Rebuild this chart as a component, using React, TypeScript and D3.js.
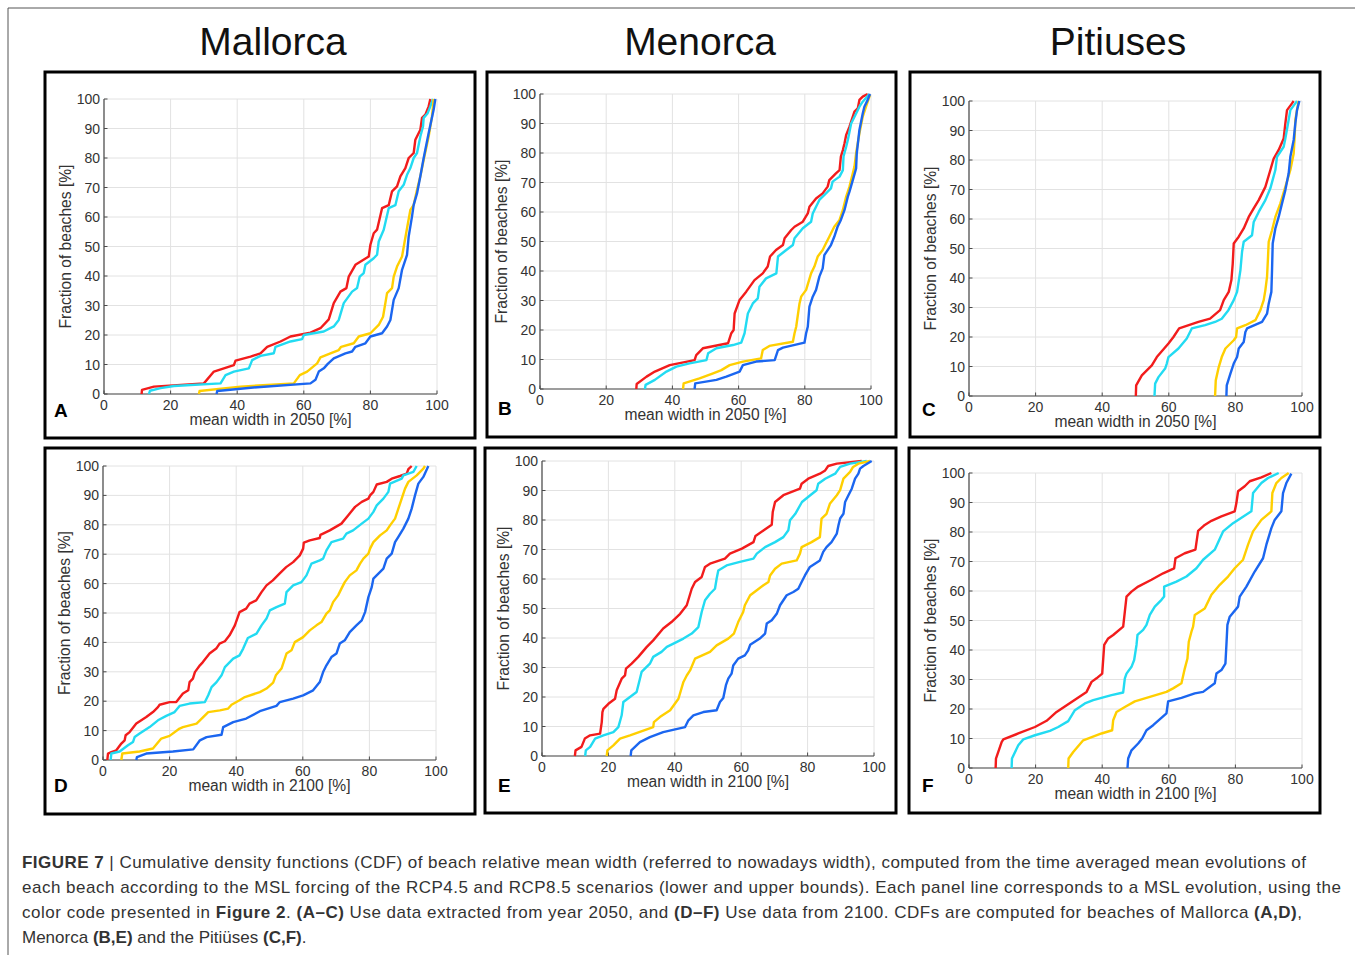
import React from "react";
import * as d3 from "d3";

type Pt = [number, number];

// column titles, scenario colours, ticks
const islands = ["Mallorca", "Menorca", "Pitiuses"];
const years = ["2050", "2100"];
const letters = ["A", "B", "C", "D", "E", "F"];
const scenarioColors = ["#f21c1c", "#22dbf2", "#ffcf00", "#1b66f0"];
const xTicks = [0, 20, 40, 60, 80, 100];
const yTicks = [0, 10, 20, 30, 40, 50, 60, 70, 80, 90, 100];

// ---- Mallorca 2050 (A)
const aRed: Pt[] = [[11.3,0],[11.4,1.4],[15,2.5],[30,3.6],[33,7.6],[39,9.8],[39.5,11.3],[44,12.7],[47,13.8],[49,16],[53,17.8],[56,19.5],[62,20.8],[65,22.3],[67.5,25.3],[69,30.8],[71,34.7],[72.8,35.9],[73.5,39.8],[75.5,43.8],[79.5,46.6],[80,50.6],[81,54.5],[82,55.7],[83.5,63],[85.5,64],[86.5,68.7],[88,70.4],[89,73.8],[90.5,76.6],[91.5,80],[93,81.7],[93.5,86.2],[95,89.6],[95.5,93.6],[96.5,94.7],[97.5,97.5],[98,100]];
const aCyan: Pt[] = [[13.5,0],[13.8,1.1],[17,2],[21,2.7],[35,3.6],[36.5,6.4],[39,7.6],[43.5,8.7],[44.5,11.5],[47,12.9],[51,13.8],[51.5,16],[56,17.8],[59.5,18.6],[60,20],[66,21.2],[69,22.9],[70.5,25.1],[72,30.8],[74.5,34.7],[76,35.9],[76.8,39.8],[78,41],[78.5,43.8],[81,46],[82,47.2],[82.5,51.7],[84,55.7],[85.5,63],[87.5,64],[88.5,68.7],[90,70.9],[91,74.3],[92,76.6],[93,80],[94,81.7],[95,87.3],[95.8,90.7],[96,93.6],[97.2,95.2],[98,97.5],[98.8,100]];
const aYellow: Pt[] = [[28.5,0],[28.7,1],[41,2.5],[57,3.6],[58.8,6.4],[61,7.6],[64,10.4],[65,12.4],[68,13.8],[70.5,14.9],[71.2,16],[75,17.2],[76.5,19.5],[80,20.6],[82.5,23.4],[83.8,26.2],[85,34.2],[86.5,35.9],[87,39.8],[88,43.2],[89.5,46.6],[90.2,51.1],[91,56.2],[92,62.4],[93,64.1],[94,69.2],[95,73.8],[96,79.4],[97.5,87.3],[98.5,94.1],[99,100]];
const aBlue: Pt[] = [[33.8,0],[34,1],[46,2.3],[62,3.6],[63.5,4.8],[64.5,7.6],[66,8.7],[67.2,10.2],[69,12.1],[72.5,13.8],[74.5,14.4],[75.5,16],[78.5,17.2],[80,19.5],[83.5,20.6],[85,22.9],[86,25.1],[87,31.9],[88.5,35.9],[89.5,42.1],[91,47.2],[91.5,53.4],[92.5,60.2],[93,64.1],[94,68],[95,73.8],[96,80],[97.5,88.5],[99,96.4],[99.5,100]];

// ---- Menorca 2050 (B)
const bRed: Pt[] = [[29.1,0],[29.2,1.7],[32.2,4.2],[34.7,5.9],[39.2,8.1],[46.7,9.8],[47.2,11.5],[49.2,13.8],[56.8,15.5],[57.8,18.9],[58.5,20],[58.8,25.6],[60.3,30.2],[62.3,33],[64.8,36.9],[67.3,39.2],[68.8,41.5],[69.5,44.9],[71.3,47.1],[73.4,48.8],[73.9,51.1],[75.9,53.9],[76.9,55],[79.4,56.7],[80.9,59.5],[81.4,61.8],[83.4,64.6],[85.4,66.3],[86.9,68.6],[87.4,70.8],[89.4,73.1],[90.5,74.2],[90.9,78.8],[91.5,81],[92,83.3],[92.5,86.1],[93.5,88.9],[94.5,92.3],[95,94],[96,95.1],[96.5,98],[97.5,99.1],[99,100]];
const bCyan: Pt[] = [[31.7,0],[31.9,1.4],[34.7,3.1],[38.2,5.9],[41.2,7.6],[45.2,8.7],[50.3,9.8],[50.8,12.1],[53.3,13.8],[58.3,14.9],[60.8,15.7],[61.8,18.9],[62.3,22.3],[62.8,25.6],[64.3,29],[65.8,30.7],[66.3,34.7],[68.3,37.5],[71.4,39.2],[71.9,44.9],[74.4,47.1],[76.4,48.8],[76.9,51.1],[79.4,54.5],[81.9,56.7],[82.4,59.5],[83.4,61.8],[84.4,64.1],[86.4,66.3],[87.9,68],[88.4,70.3],[90.5,72],[91.5,74.2],[91.7,78.8],[92.5,82.1],[93,84.4],[94,90],[95.5,93.4],[96.5,95.7],[97.5,97.4],[99.5,100]];
const bYellow: Pt[] = [[43.2,0],[43.4,1.9],[48.2,3.6],[52.3,5.3],[54.8,6.4],[57.3,8.1],[61.3,9.3],[66.8,10.4],[67.3,13.2],[69.3,14.6],[76.4,16],[76.9,18.9],[77.4,21.1],[78.4,29],[78.9,31.3],[80.4,33.6],[81.9,39.2],[82.9,41.5],[83.9,44.9],[85.4,47.1],[86.4,49.4],[87.4,51.6],[88.9,55],[90.5,57.3],[91.5,60.7],[92.5,65.2],[93.5,68.6],[94.5,73.1],[95,75.4],[95.5,79.9],[96.5,86.7],[97.5,92.3],[98.5,95.7],[99.7,99.7]];
const bBlue: Pt[] = [[46.7,0],[46.9,1.9],[53.3,3.1],[56.3,4.2],[60.3,5.9],[61.3,8.1],[65.3,9.3],[70.9,9.8],[71.9,13.2],[73.4,14],[79.9,15.7],[80.4,18.9],[80.9,21.1],[81.4,27.9],[82.4,31.3],[83.4,33.6],[84.4,38.1],[85.4,40.9],[85.9,45.4],[87.9,48.8],[88.9,51.6],[89.9,55],[90.9,57.3],[92,60.7],[93,65.2],[93.5,66.9],[94.5,70.8],[95.5,74.8],[95.7,79.9],[96.5,87.8],[97.5,93.4],[98,95.7],[99,98],[99.7,100]];

// ---- Pitiuses 2050 (C)
const cRed: Pt[] = [[50.1,0],[50.2,3.6],[51.9,7],[54.9,10.4],[56.4,13.2],[59.9,17.8],[61.4,20],[63.1,22.9],[68.9,25.1],[72.4,26.2],[75.4,29.1],[76.5,32.5],[78,35.3],[78.8,39.3],[79.2,44.9],[79.5,51.7],[81,54],[82.5,56.8],[84,60.7],[85.5,63.6],[87,66.4],[89,70.9],[90.5,76.6],[91.5,80.5],[93,83.4],[94.5,87.3],[95,92.4],[95.5,96.9],[97,99.2],[97.5,100]];
const cCyan: Pt[] = [[55.7,0],[55.9,4.2],[56.9,6.4],[58.9,9.3],[59.4,11],[59.9,13.2],[62.9,16.1],[65.4,19.5],[66.9,22.9],[70.9,24],[73.9,25.1],[75.9,26.2],[77.9,29.1],[79.5,32.5],[80.5,35.3],[81.5,42.6],[82,48.9],[82.5,52.3],[85,54.5],[85.5,59],[87,62.4],[89,66.4],[90.5,70.4],[92,76.6],[92.5,81.1],[94.5,84.5],[95,87.3],[95.8,92.4],[96.5,96.9],[98,99.2],[98.5,100]];
const cYellow: Pt[] = [[73.9,0],[74.1,5.3],[75,9.8],[75.9,13.2],[77,16.1],[79.5,18.9],[80.2,20],[80.5,22.9],[83,24],[86,25.7],[87.5,29.1],[88.5,32.5],[89,35.9],[89.5,40.4],[89.8,47.2],[90,52.3],[91,56.2],[92,60.7],[93.5,65.3],[95,70.9],[96.5,76.6],[97.5,82.2],[97.8,87.9],[98,93.6],[98.5,96.9],[99,100]];
const cBlue: Pt[] = [[77.3,0],[77.4,3.6],[78.5,7.6],[79.5,11],[80.5,13.2],[81,16.1],[82.5,18.3],[83,21.7],[83.5,22.9],[88,25.1],[89.5,27.9],[90,31.3],[90.8,35.3],[91,42.6],[91.2,51.7],[92,56.8],[93,60.7],[94,65.3],[95,69.8],[96,75.5],[96.5,81.1],[97.5,86.8],[98,92.4],[98.5,96.9],[99.2,100]];

// ---- Mallorca 2100 (D)
const dRed: Pt[] = [[1.3,0],[1.5,2.2],[2.5,2.7],[4,3.3],[5.5,5.6],[6.5,6.7],[6.8,8.4],[8,9.5],[10,12.4],[13,14.6],[15,16.3],[16.5,18],[17,18.8],[20,19.7],[22,19.7],[24,22.6],[25.6,23.7],[26,26.5],[27,27.7],[27.6,29.9],[29.1,32.2],[30,33.3],[32,36.2],[34,37.9],[35,39.6],[36.6,40.4],[38,42.4],[39.6,45.8],[41,50.3],[43,51.5],[44,53.2],[46,54.3],[47.6,57.1],[49.1,59.4],[51,61.1],[53,63.4],[55,65.6],[57.1,67.3],[59.1,69.6],[60.1,71.9],[60.3,73.9],[62.1,74.7],[65.1,75.5],[65.3,76.6],[68.1,78.1],[71.6,80.4],[73.6,83.2],[75.7,86.1],[77.7,87.8],[79.7,88.9],[80.2,90],[81.2,91.2],[82.2,93.7],[85.2,94.6],[86.7,95.7],[89.2,96.6],[91.2,97.4],[91.7,98.9],[92.7,100]];
const dCyan: Pt[] = [[2.3,0],[2.5,2.2],[5,2.9],[7.5,5],[9,6.1],[9.5,7.8],[11,9],[14,11.2],[16.5,13.5],[19,15],[21.5,16.3],[23,18.4],[26,19.2],[30.6,19.7],[31.6,22],[32.6,24.8],[34.1,26.5],[35.6,28.8],[36.6,31.6],[39.1,34.5],[41,35.6],[42.1,37.9],[43.5,41.5],[46.1,43],[47.6,45.8],[49.1,48.1],[50.1,50.9],[52.1,52],[54.6,53.2],[55.1,57.1],[57.1,59.4],[59.6,60.5],[61.1,62.8],[62.6,66.8],[65.1,67.9],[66.1,68.5],[67.1,71.3],[68.6,74.1],[72.1,75.3],[73.1,77],[75.1,78.1],[77.7,80.4],[79.7,82.1],[81.2,84.4],[82.2,86.6],[84.2,88.9],[85.7,91.2],[86.2,94],[89.7,95.7],[90.2,96.8],[93.2,98],[94.2,100]];
const dYellow: Pt[] = [[5.5,0],[5.8,2.2],[11,2.9],[15,3.9],[17.5,7.3],[20,8.2],[23,10.7],[24,11.2],[28.1,12.4],[29.1,13.5],[31.6,16.3],[35.1,16.9],[37.6,17.5],[38.6,18.8],[41,20.3],[42.6,21.4],[47.1,23.1],[49.1,24.3],[51.1,26.3],[51.9,28.8],[53.6,31.1],[55.1,36.2],[56.6,37.3],[57.6,40.1],[60.1,41.8],[62.1,44.1],[64.1,45.8],[65.6,46.9],[67.1,49.8],[68.1,50.9],[69.1,53.7],[70.6,56],[71.6,58.3],[72.6,60.5],[74.1,62.8],[76.1,64.5],[77.2,66.8],[78.2,68.5],[79.7,70.2],[80.2,71.9],[81.2,74.1],[83.2,76.4],[85.2,78.1],[86.2,79.8],[87.7,82.1],[88.7,85.5],[89.7,88.9],[90.7,92.3],[91.7,94.6],[94.2,96.8],[96.2,99.1],[96.7,100]];
const dBlue: Pt[] = [[10,0],[10.2,1],[13,2.2],[21,2.9],[27.1,3.6],[29.1,6.7],[31.1,7.8],[35.6,8.6],[36.1,11.2],[39.1,12.9],[43,14.1],[47.1,16.6],[52.1,18.4],[53.1,19.7],[57.1,20.9],[60.1,22],[63.1,23.7],[65.1,26.5],[66.1,29.9],[67.1,32.2],[68.6,35],[70.1,36.2],[71.1,39.6],[72.6,40.7],[74.1,43.5],[76.1,45.8],[77.7,47.5],[78.7,50.3],[79.7,55.4],[80.7,58.8],[81.2,61.7],[82.7,63.4],[84.2,65.1],[85.2,68.5],[86.7,70.2],[87.7,74.1],[88.7,75.9],[90.2,78.7],[91.7,82.1],[92.7,85.5],[93.7,90],[94.7,94],[96.2,96.3],[97.7,100]];

// ---- Menorca 2100 (E)
const eRed: Pt[] = [[9.9,0],[10.1,1.9],[11.9,3.1],[12.9,5.9],[14.5,7],[17.5,7.6],[18,11.5],[18.2,14.9],[18.5,16],[20,17.7],[22,19.4],[22.5,22.3],[24,26.2],[25,27.3],[25.3,29.6],[27,31.3],[29,33.6],[31.5,36.9],[33.5,39.2],[36.5,43.2],[39,45.4],[41.6,48.2],[43.6,51.1],[45.1,56.7],[46.1,59],[48.1,60.7],[49.1,64.1],[50.6,65.2],[55.1,66.9],[56.6,68.6],[60.2,70.3],[63.7,72.5],[64.3,74.6],[66.8,76.5],[69.2,78.4],[69.5,82.7],[70.2,86.1],[72.7,88.4],[77.7,90.6],[78.2,92.3],[80.2,94],[83.7,95.7],[85.3,96.8],[86.2,98.3],[88.8,99.1],[96.3,100]];
const eCyan: Pt[] = [[13,0],[13.2,1.9],[14.5,3.1],[16,5.9],[18.5,7],[21.5,8.1],[23,9.8],[24,13.8],[24.5,18.3],[26.5,20],[28.5,21.7],[29.5,26.2],[30,28.5],[32.5,31.3],[33.5,33.6],[36,35.3],[37.6,37],[39.6,38.1],[42.6,39.8],[45.1,41.5],[47.1,43.7],[48.1,48.8],[49.1,52.8],[50.6,55],[52.1,56.7],[52.6,60.1],[53.1,62.9],[55.6,64.6],[59.6,65.8],[63.7,66.9],[64.7,68.6],[67.2,70.8],[70.2,72.5],[72.7,74.2],[74.2,76.5],[74.7,79.9],[76.3,82.1],[78.3,86.1],[80.8,88.4],[82.7,90.1],[83.2,92.3],[85.3,94],[88.3,95.7],[89.8,98],[92.8,99.1],[97.8,100]];
const eYellow: Pt[] = [[19.5,0],[19.7,1.9],[21.5,3.6],[23.5,5.9],[26.5,7],[33.5,9.8],[33.7,11.5],[35.5,13.2],[38.6,15.5],[41.1,19.4],[42.6,25.1],[43.6,27.3],[44.6,29],[46.1,33],[50.6,35.3],[52.6,37.5],[56.1,39.8],[57.8,41.5],[59.1,45.4],[60.6,48.8],[61.1,51.1],[62.7,54.5],[64.7,56.2],[66.7,57.9],[68.2,59],[68.7,61.2],[70.2,63.5],[72.2,65.2],[76.7,66.3],[77.7,68.6],[78.2,70.8],[81.2,72.5],[83.7,74.2],[84.2,80.5],[85.7,82.1],[86.7,85.5],[88.8,88.4],[89.8,90.1],[90.8,94],[92.8,96.3],[93.7,98],[95.3,99.1],[98.8,100]];
const eBlue: Pt[] = [[26.7,0],[26.9,1.9],[29.5,4.7],[32.5,6.4],[36.5,8.1],[40.1,9],[43.1,9.8],[44.1,12.1],[45.6,13.8],[48.6,14.9],[52.6,15.5],[53.6,18.3],[54.6,19.7],[55.4,24],[56.1,26.2],[57.1,27.9],[57.6,30.7],[59.1,33],[61.1,34.1],[62.1,35.8],[62.7,37.7],[65.6,39.8],[67.2,41.5],[67.7,44.9],[69.2,46],[70.7,48.2],[71.7,51.1],[73.7,54.5],[75.7,55.6],[77.2,56.7],[78.2,59],[79.2,61.2],[80.7,64.1],[83.7,66.3],[84.7,69.2],[85.7,70.8],[87.2,72.5],[88.8,75.4],[89.3,78.2],[89.8,80.5],[90.8,82.1],[91.3,86.1],[92.3,88.4],[93.3,90.6],[94.3,94],[95.3,95.7],[95.8,97.4],[96.8,98.3],[99.3,100]];

// ---- Pitiuses 2100 (F)
const fRed: Pt[] = [[8,0],[8.1,3.2],[9.8,8.8],[10.3,9.7],[14.8,11.7],[19.8,13.9],[23.3,16],[26.3,19],[30.8,22.4],[35.3,25.8],[36.8,29.2],[38.3,30.4],[40,32],[40.6,41.7],[41.8,43.9],[43.3,45.1],[46.3,47.9],[46.8,53],[47.3,58.1],[48.8,59.8],[50.8,61.5],[54.8,63.8],[58.3,66],[61.6,67.7],[62,71.1],[64.8,72.8],[68,74],[68.8,80.4],[70.8,82.4],[72.8,83.8],[75.8,85.3],[79.8,87],[80.3,89.8],[80.8,93.8],[82.8,95.5],[84.3,97.2],[87.8,98.5],[90.8,100]];
const fCyan: Pt[] = [[12.8,0],[12.9,3.2],[14.8,7.7],[16.3,9.7],[19.8,11.1],[24.3,12.6],[26.8,13.9],[29.8,15.9],[31.8,19.6],[34.8,21.9],[37.3,23],[42.8,24.7],[46.3,25.6],[46.8,30.4],[47.3,32],[48.8,34.3],[49.6,36.6],[50.3,41.7],[50.6,45.1],[52.3,46.8],[53.3,48.5],[54.3,51.9],[55.8,54.7],[57.8,57],[58.6,58.1],[58.6,61.5],[62.3,63.2],[65.3,64.9],[68.3,67.7],[70.3,70.6],[73.8,74],[76.3,80.2],[79.3,83],[84.8,87],[85.3,93.2],[87.8,96.6],[89.8,98.3],[93,100]];
const fYellow: Pt[] = [[29.8,0],[29.9,3.2],[31.3,5.4],[34.3,9.4],[39.8,11.7],[43,12.8],[43.3,16.2],[44.3,19],[46.8,20.7],[49.8,22.6],[54.3,24.1],[59.3,25.8],[61.3,27],[63.8,28.7],[64.8,33.7],[65.6,37.1],[66,42.8],[66.8,46.2],[67.3,47.9],[67.8,51.9],[70.8,54.1],[71.8,56.4],[72.8,58.7],[75.3,62.1],[77.8,64.9],[79.8,67.7],[82.3,70.6],[83.8,75.7],[85.3,80.2],[87.8,84.1],[90.8,87],[91.1,93.2],[92.3,96.6],[93.8,98.3],[96,100]];
const fBlue: Pt[] = [[47.6,0],[47.8,3.2],[48.8,6],[50.8,8.3],[52,10],[53.3,12.8],[55.3,14.5],[59.3,18.5],[59.8,22.6],[63.8,23.8],[67.8,25.3],[70.3,25.8],[73.8,28.7],[74.3,32],[75.8,33.2],[77,35.4],[77.3,41.7],[77.6,48.5],[78.3,51.3],[80.8,54.7],[81.3,58.1],[83.3,61.5],[85.8,66.6],[88.3,71.1],[89.3,75.7],[90.8,81.3],[91.8,84.1],[93.8,87],[94.3,93.2],[95.3,96.6],[96.8,99.8]];

const curvesByPanel: Pt[][][] = [
  [aRed, aCyan, aYellow, aBlue],
  [bRed, bCyan, bYellow, bBlue],
  [cRed, cCyan, cYellow, cBlue],
  [dRed, dCyan, dYellow, dBlue],
  [eRed, eCyan, eYellow, eBlue],
  [fRed, fCyan, fYellow, fBlue],
];

// page layout (pixel positions of each panel)
const layout = [
  { box: [45, 72, 475, 438], plot: [104, 99, 437, 394], lab: [54, 417] },
  { box: [487, 72, 896, 437], plot: [540, 94, 871, 389], lab: [498, 415] },
  { box: [910, 72, 1320, 437], plot: [969, 101, 1302, 396], lab: [922, 416] },
  { box: [45, 448, 475, 814], plot: [103, 466, 436, 760], lab: [54, 792] },
  { box: [485, 448, 896, 813], plot: [542, 461, 874, 756], lab: [498, 792] },
  { box: [909, 448, 1320, 813], plot: [969, 473, 1302, 768], lab: [922, 792] },
];

const FONT = "'Liberation Sans', Arial, Helvetica, sans-serif";

function Panel({ idx }: { idx: number }) {
  const L = layout[idx];
  const [px0, py0, px1, py1] = L.plot;
  const x = d3.scaleLinear().domain([0, 100]).range([px0, px1]);
  const y = d3.scaleLinear().domain([0, 100]).range([py1, py0]);
  const line = d3.line<Pt>().x((d) => x(d[0])).y((d) => y(d[1]));
  const year = years[Math.floor(idx / 3)];
  const [bx0, by0, bx1, by1] = L.box;
  return (
    <g>
      <rect x={bx0} y={by0} width={bx1 - bx0} height={by1 - by0} fill="#fff" stroke="#000" strokeWidth={3} />
      {xTicks.map((t) => (
        <line key={"gx" + t} x1={x(t)} x2={x(t)} y1={y(0)} y2={y(100)} stroke="#e2e2e2" strokeWidth={1} />
      ))}
      {yTicks.map((t) => (
        <line key={"gy" + t} x1={x(0)} x2={x(100)} y1={y(t)} y2={y(t)} stroke="#e2e2e2" strokeWidth={1} />
      ))}
      <line x1={x(0)} x2={x(100)} y1={y(0)} y2={y(0)} stroke="#4a4a4a" strokeWidth={1.2} />
      <line x1={x(0)} x2={x(0)} y1={y(0)} y2={y(100)} stroke="#4a4a4a" strokeWidth={1.2} />
      {xTicks.map((t) => (
        <g key={"tx" + t}>
          <line x1={x(t)} x2={x(t)} y1={y(0)} y2={y(0) - 3.5} stroke="#4a4a4a" />
          <text x={x(t)} y={y(0) + 16} textAnchor="middle" fontSize={14} fill="#333" fontFamily={FONT}>{t}</text>
        </g>
      ))}
      {yTicks.map((t) => (
        <g key={"ty" + t}>
          <line x1={x(0)} x2={x(0) + 3.5} y1={y(t)} y2={y(t)} stroke="#4a4a4a" />
          <text x={x(0) - 4} y={y(t) + 5} textAnchor="end" fontSize={14} fill="#333" fontFamily={FONT}>{t}</text>
        </g>
      ))}
      {curvesByPanel[idx].map((c, i) => (
        <path key={"c" + i} d={line(c) || ""} fill="none" stroke={scenarioColors[i]} strokeWidth={2.4} strokeLinejoin="round" />
      ))}
      <text x={(px0 + px1) / 2} y={py1 + 31} textAnchor="middle" fontSize={15.6} fill="#333" fontFamily={FONT}>
        {`mean width in ${year} [%]`}
      </text>
      <text transform={`translate(${px0 - 33},${(py0 + py1) / 2}) rotate(-90)`} textAnchor="middle" fontSize={15.6} fill="#333" fontFamily={FONT}>
        Fraction of beaches [%]
      </text>
      <text x={L.lab[0]} y={L.lab[1]} fontSize={19} fontWeight="bold" fill="#000" fontFamily={FONT}>{letters[idx]}</text>
    </g>
  );
}

const titleX = [273, 700, 1118];

export default function App() {
  const cap = { fontSize: 17, fill: "#333", fontFamily: FONT };
  return (
    <svg width={1355} height={955} style={{ position: "absolute", left: 0, top: 0 }}>
      <rect width={1355} height={955} fill="#fff" />
      <line x1={8} x2={1355} y1={8} y2={8} stroke="#555" strokeWidth={1} />
      <line x1={8} x2={8} y1={8} y2={955} stroke="#555" strokeWidth={1} />
      {islands.map((n, i) => (
        <text key={n} x={titleX[i]} y={55} textAnchor="middle" fontSize={39} fill="#111" fontFamily={FONT}>{n}</text>
      ))}
      {layout.map((_, i) => <Panel key={i} idx={i} />)}
      <text x={22} y={868} {...cap} textLength={1284} lengthAdjust="spacing">
        <tspan fontWeight="bold">FIGURE 7</tspan> | Cumulative density functions (CDF) of beach relative mean width (referred to nowadays width), computed from the time averaged mean evolutions of
      </text>
      <text x={22} y={893} {...cap} textLength={1319} lengthAdjust="spacing">
        each beach according to the MSL forcing of the RCP4.5 and RCP8.5 scenarios (lower and upper bounds). Each panel line corresponds to a MSL evolution, using the
      </text>
      <text x={22} y={918} {...cap} textLength={1280} lengthAdjust="spacing">
        color code presented in <tspan fontWeight="bold">Figure 2</tspan>. <tspan fontWeight="bold">(A–C)</tspan> Use data extracted from year 2050, and <tspan fontWeight="bold">(D–F)</tspan> Use data from 2100. CDFs are computed for beaches of Mallorca <tspan fontWeight="bold">(A,D)</tspan>,
      </text>
      <text x={22} y={943} {...cap}>
        Menorca <tspan fontWeight="bold">(B,E)</tspan> and the Pitiüses <tspan fontWeight="bold">(C,F)</tspan>.
      </text>
    </svg>
  );
}
